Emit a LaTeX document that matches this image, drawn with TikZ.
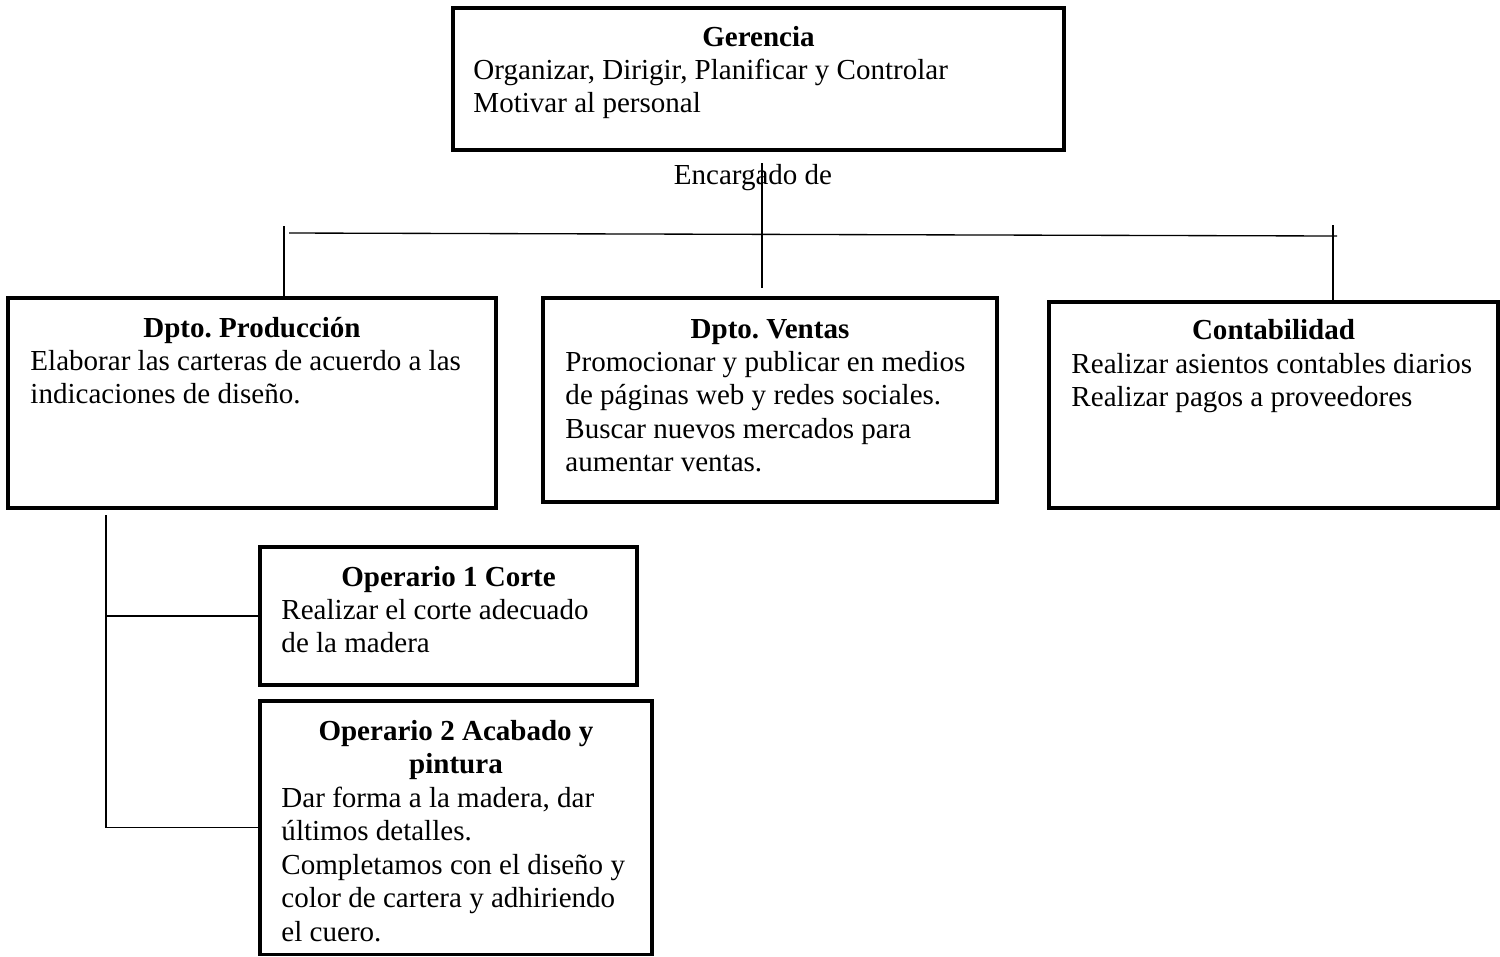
\documentclass[tikz,border=0pt]{standalone}
\usepackage{fontspec}
\setmainfont{Liberation Serif}
\usetikzlibrary{fit}
\frenchspacing
\begin{document}
\begin{tikzpicture}[x=0.41333pt,y=-0.41333pt,
  box/.style={draw, line width=1.3pt, inner sep=0pt, rectangle},
  ttl/.style={font=\fontsize{12}{13.8}\selectfont\bfseries, inner sep=0pt, anchor=base},
  body/.style={font=\fontsize{12}{13.8}\selectfont, inner sep=0pt, anchor=north west, align=left},
  plain/.style={font=\fontsize{12}{13.8}\selectfont, inner sep=0pt, anchor=base},
  link/.style={line width=0.55pt}]
\useasboundingbox (0,0) rectangle (1500,956);

% management box
\node[box, fit={(453,8) (1064,150)}] (ger) {};
\node[ttl] (gerT) at (758.5,46) {Gerencia};
\node[body] (gerB) at (473,55.6) {\strut Organizar, Dirigir, Planificar y Controlar\\Motivar al personal};

\node[plain] (enc) at (753,184) {Encargado de};

% departments
\node[box, fit={(8,298) (496,508)}] (prod) {};
\node[ttl] (prodT) at (252,337) {Dpto. Producción};
\node[body] (prodB) at (30,346.6) {\strut Elaborar las carteras de acuerdo a las\\indicaciones de diseño.};

\node[box, fit={(543,298) (997,502)}] (vent) {};
\node[ttl] (ventT) at (770,338) {Dpto. Ventas};
\node[body] (ventB) at (565,347.6) {\strut Promocionar y publicar en medios\\de páginas web y redes sociales.\\Buscar nuevos mercados para\\aumentar ventas.};

\node[box, fit={(1049,302) (1498,508)}] (cont) {};
\node[ttl] (contT) at (1273.5,339) {Contabilidad};
\node[body] (contB) at (1071,349.6) {\strut Realizar asientos contables diarios\\Realizar pagos a proveedores};

% operators
\node[box, fit={(260,547) (637,685)}] (op1) {};
\node[ttl] (op1T) at (448.5,586) {Operario 1 Corte};
\node[body] (op1B) at (281,595.6) {\strut Realizar el corte adecuado\\de la madera};

\node[box, fit={(260,701) (652,954.5)}] (op2) {};
\node[ttl, anchor=north, align=center] (op2T) at (456,716.6) {\strut Operario 2 Acabado y\\pintura};
\node[body] (op2B) at (281,783.6) {\strut Dar forma a la madera, dar\\últimos detalles.\\Completamos con el diseño y\\color de cartera y adhiriendo\\el cuero.};

% connector ends
\coordinate (ctop) at (762,163);
\coordinate (cbot) at (762,288);
\coordinate (hl) at (289,233);
\coordinate (hr) at (1337,236);
\coordinate (lt) at (284,226);
\coordinate (rt) at (1333,225);
\coordinate (pb) at (106,515);

\draw[link] (ctop) -- (cbot);
\draw[link] (hl) -- (hr);
\draw[link] (lt) -- (lt |- prod.north);
\draw[link] (rt) -- (rt |- cont.north);
\draw[link] (pb) -- (pb |- op2.west) -- (op2.west);
\draw[link] (pb |- op1.west) -- (op1.west);
\end{tikzpicture}
\end{document}
